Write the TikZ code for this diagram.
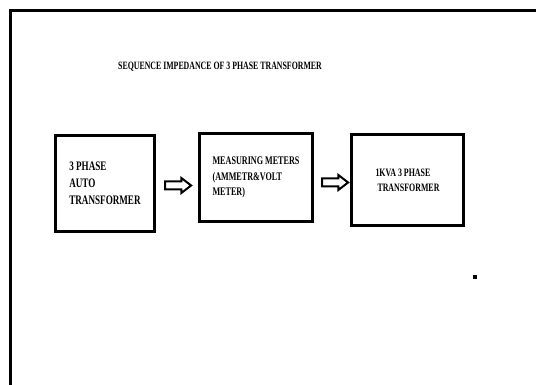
\documentclass[tikz,border=0pt]{standalone}
\usepackage{fontspec}
\setmainfont{Liberation Serif}[FakeStretch=0.7]
\usepackage{tikz}
\usetikzlibrary{shapes.arrows}

\begin{document}
\begin{tikzpicture}[
    x=1pt, y=-1pt,
    block/.style={rectangle, draw=black, line width=3.2pt, fill=white, align=left, inner sep=0pt, font=\bfseries},
    flow/.style={single arrow, draw=black, line width=2pt, fill=white, inner xsep=0pt, inner ysep=3pt, minimum height=26pt, single arrow head extend=3.5pt, single arrow tip angle=75},
    heading/.style={font=\bfseries\fontsize{11.2}{13}\selectfont}
]

% Page and frame
\fill[white] (0,0) rectangle (536,385);
\useasboundingbox (0,0) rectangle (536,385);
\clip (0,0) rectangle (536,385);
\draw[line width=3pt] (545,11) -- (10.5,11) -- (10.5,395);

% Title
\node[heading] (title) at (220,67) {SEQUENCE IMPEDANCE OF 3 PHASE TRANSFORMER};

% Blocks (left to right)
\node[block, minimum width=99pt, minimum height=96pt, font=\bfseries\fontsize{13}{17}\selectfont] (auto) at (105,183.5) {3 PHASE\\AUTO\\TRANSFORMER};
\node[block, minimum width=113pt, minimum height=88pt, font=\bfseries\fontsize{11.6}{15.5}\selectfont] (meters) at (256,177.5) {MEASURING METERS\\(AMMETR\&VOLT\\METER)};
\node[block, minimum width=112pt, minimum height=91pt, font=\bfseries\fontsize{11.3}{15}\selectfont] (trafo) at (407.5,180) {1KVA 3 PHASE\\\ TRANSFORMER};

% Block arrows between the blocks
\node[flow] (arr1) at (175.5,185.5) {};
\node[flow] (arr2) at (332.5,182.5) {};

% Stray dot
\node[fill=black, inner sep=0pt, minimum size=3.5pt] (dot) at (475,277) {};

\end{tikzpicture}
\end{document}
